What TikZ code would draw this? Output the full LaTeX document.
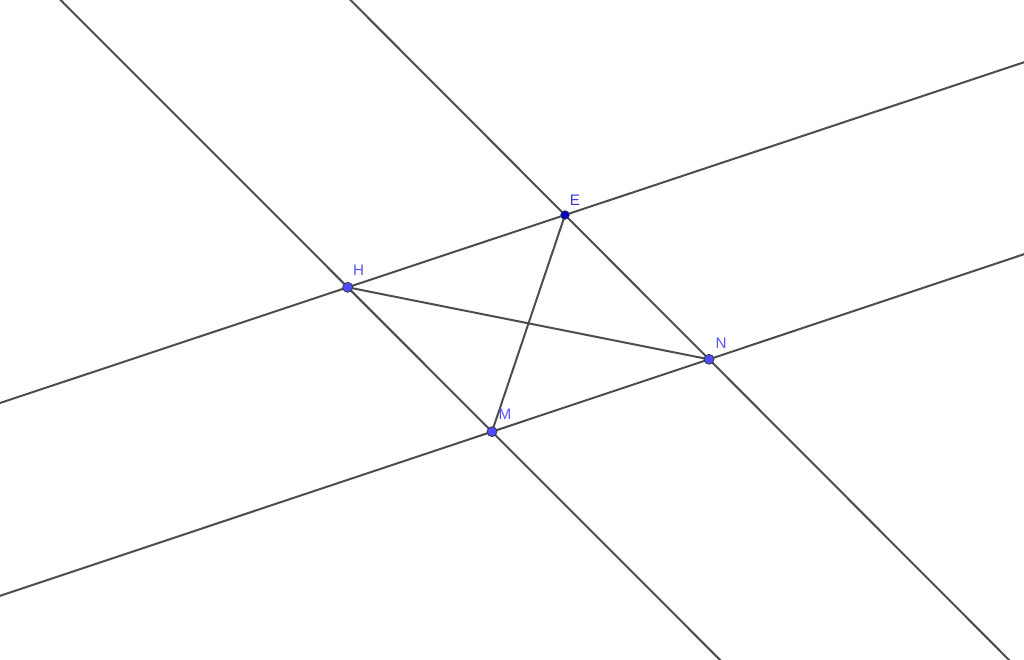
\documentclass[tikz,border=0pt]{standalone}
\usepackage{fontspec}
\setmainfont{Liberation Sans}
\usepackage{tikz}
\usetikzlibrary{calc}
\definecolor{linegray}{HTML}{4D4D4D}
\definecolor{ptblue}{HTML}{4D4DFF}
\definecolor{ptdark}{HTML}{0000CC}
\definecolor{lblblue}{HTML}{5555FF}
\definecolor{lbldark}{HTML}{3A3AE6}

\begin{document}
\begin{tikzpicture}[x=0.03cm,y=-0.03cm,
    gline/.style={linegray, line width=1.7pt},
    gpoint/.style={draw=black!80, fill=ptblue, line width=0.6pt},
    dpoint/.style={draw=black!80, fill=ptdark, line width=0.6pt},
    lbl/.style={font=\fontsize{13}{15}\selectfont, text=lblblue, inner sep=0pt},
    lbldk/.style={font=\fontsize{13}{15}\selectfont, text=lbldark, inner sep=0pt}]
              \useasboundingbox (0, 0) rectangle (1024, 659);
              \clip (0, 0) rectangle (1024, 659);
              \coordinate (E) at (565, 215);
              \coordinate (H) at (347.7, 287.3);
              \coordinate (N) at (709, 359.3);
              \coordinate (M) at (492, 431.7);
              % the four lines
              \draw[gline] ($(H)!-5!(E)$) -- ($(H)!5!(E)$);
              \draw[gline] ($(M)!-5!(N)$) -- ($(M)!5!(N)$);
              \draw[gline] ($(H)!-5!(M)$) -- ($(H)!5!(M)$);
              \draw[gline] ($(E)!-5!(N)$) -- ($(E)!5!(N)$);
              % diagonals
              \draw[gline] (H) -- (N);
              \draw[gline] (E) -- (M);
              \draw[dpoint] (E) circle (4.3);
              \draw[gpoint] (H) circle (5);
              \draw[gpoint] (N) circle (5);
              \draw[gpoint] (M) circle (5);
              \node[lbldk] (lE) at ($(E)+(10,-15)$) {E};
              \node[lbl] (lH) at ($(H)+(11,-17)$) {H};
              \node[lbl] (lN) at ($(N)+(12,-16)$) {N};
              \node[lbl] (lM) at ($(M)+(13,-17)$) {M};
            \end{tikzpicture}
\end{document}
